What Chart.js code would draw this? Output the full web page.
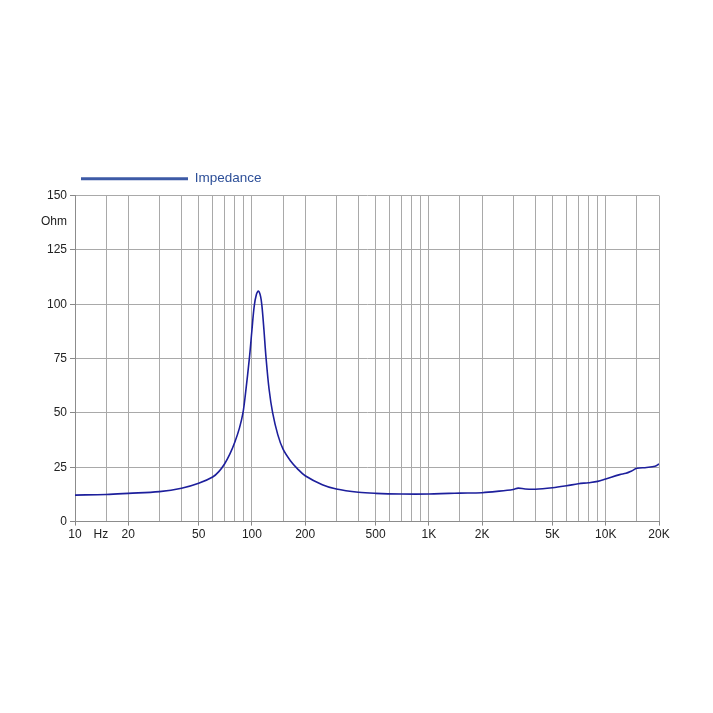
<!DOCTYPE html>
<html>
<head>
<meta charset="utf-8">
<script src="https://cdn.jsdelivr.net/npm/chart.js@4.4.1/dist/chart.umd.min.js"></script>
<style>
  html, body { margin: 0; padding: 0; background: #fff; }
  #wrap { width: 713px; height: 713px; }
</style>
</head>
<body>
<div id="wrap"><canvas id="impChart"></canvas></div>
<script>
// impedance curve
const freqHz = [10, 15, 20, 30, 40, 50, 60, 65, 70, 75, 80, 85, 89, 92, 97, 100, 103, 106, 109, 112, 114, 117, 120, 125, 131, 140, 150, 165, 180, 200, 250, 300, 400, 500, 700, 1000, 1300, 1500, 2000, 2500, 3000, 3200, 3500, 4000, 5000, 6000, 7000, 8000, 9000, 10000, 12000, 13000, 14000, 15000, 17000, 19000, 20000];
const ohms = [12.2, 12.5, 13.0, 13.8, 15.3, 17.6, 20.5, 23.0, 26.5, 31, 36.5, 43, 50, 59, 76, 88, 99, 104.5, 106, 103.5, 99, 88, 76, 61, 50, 40, 33.3, 28, 24.5, 21.1, 17, 15, 13.5, 13.0, 12.7, 12.7, 13.0, 13.1, 13.3, 14, 14.8, 15.4, 15.0, 14.9, 15.6, 16.5, 17.4, 17.9, 18.5, 19.6, 21.6, 22.2, 23.3, 24.5, 24.9, 25.5, 26.5];

// axis ticks
const xGrid = [10, 15, 20, 30, 40, 50, 60, 70, 80, 90, 100, 150, 200, 300, 400, 500, 600, 700, 800, 900, 1000, 1500, 2000, 3000, 4000, 5000, 6000, 7000, 8000, 9000, 10000, 15000, 20000];
const xLabels = { 10: "10", 14: "Hz", 20: "20", 50: "50", 100: "100", 200: "200", 500: "500", 1000: "1K", 2000: "2K", 5000: "5K", 10000: "10K", 20000: "20K" };
const yTicks = [0, 25, 50, 75, 100, 125, 150];
const yUnit = "Ohm";
const yUnitAt = 138;
const xUnitAt = 14;

const gridCol = "#a9a9a9";
const hidden = "rgba(0,0,0,0)";

const points = freqHz.map((f, i) => ({ x: f, y: ohms[i] }));

new Chart(document.getElementById("impChart"), {
  type: "line",
  data: {
    datasets: [{
      label: "Impedance",
      data: points,
      borderColor: "#1d1f9c",
      borderWidth: 1.6,
      pointRadius: 0,
      tension: 0.35,
      fill: false
    }]
  },
  options: {
    responsive: true,
    maintainAspectRatio: false,
    animation: false,
    layout: { padding: { left: 20, right: 54, top: 166, bottom: 169 } },
    plugins: {
      tooltip: { enabled: false },
      legend: {
        position: "top",
        align: "start",
        fullSize: false,
        labels: {
          boxWidth: 107,
          boxHeight: 3,
          padding: 6,
          color: "#2d4f98",
          font: { family: "'Liberation Sans', Arial, sans-serif", size: 13.5 },
          generateLabels: (chart) => [{
            text: "Impedance",
            fillStyle: "#3d5aa6",
            strokeStyle: "#3d5aa6",
            lineWidth: 0,
            fontColor: "#2d4f98",
            datasetIndex: 0
          }]
        }
      }
    },
    scales: {
      x: {
        type: "logarithmic",
        min: 10,
        max: 20000,
        afterBuildTicks: (scale) => {
          const vals = xGrid.concat([xUnitAt]).sort((a, b) => a - b);
          scale.ticks = vals.map(v => ({ value: v }));
        },
        ticks: {
          autoSkip: false,
          maxRotation: 0,
          padding: 2,
          color: "#222",
          font: { family: "'Liberation Sans', Arial, sans-serif", size: 12 },
          callback: (v) => xLabels[v] || ""
        },
        grid: {
          color: (ctx) => (ctx.tick && ctx.tick.value === xUnitAt) ? hidden : gridCol,
          tickColor: (ctx) => (ctx.tick && xLabels[ctx.tick.value] && ctx.tick.value !== xUnitAt) ? "#888" : hidden,
          tickLength: 4,
          lineWidth: 1
        },
        border: { color: "#8c8c8c" }
      },
      y: {
        min: 0,
        max: 150,
        afterBuildTicks: (scale) => {
          const vals = yTicks.concat([yUnitAt]).sort((a, b) => a - b);
          scale.ticks = vals.map(v => ({ value: v }));
        },
        afterFit: (scale) => { scale.width = 55; },
        ticks: {
          padding: 3,
          color: "#222",
          font: { family: "'Liberation Sans', Arial, sans-serif", size: 12 },
          callback: (v) => v === yUnitAt ? yUnit : String(v)
        },
        grid: {
          color: (ctx) => (ctx.tick && ctx.tick.value === yUnitAt) ? hidden : gridCol,
          tickColor: (ctx) => (ctx.tick && ctx.tick.value === yUnitAt) ? hidden : "#888",
          tickLength: 5,
          lineWidth: 1
        },
        border: { color: "#8c8c8c" }
      }
    }
  }
});
</script>
</body>
</html>
